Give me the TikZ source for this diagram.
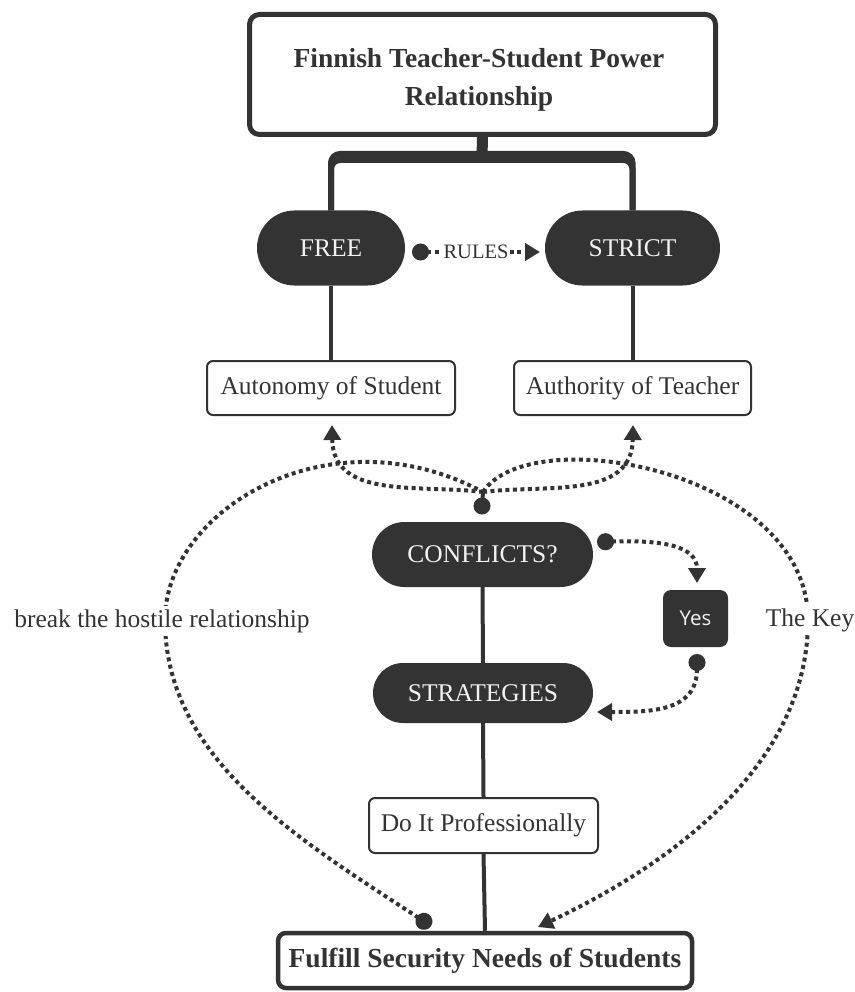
\documentclass[tikz,border=0pt]{standalone}
\usepackage{fontspec}
\setmainfont{Liberation Serif}
\newfontfamily\yesfont{Open Sans}
\usetikzlibrary{arrows.meta,shapes.misc}
\definecolor{ink}{HTML}{333333}
\definecolor{paper}{HTML}{F2F2F2}
\tikzset{
  tri/.tip={Triangle[length=15pt,width=17pt]},
  dotip/.tip={Circle[length=17pt]},
}
\begin{document}
\begin{tikzpicture}[x=1pt,y=-1pt,
  txt/.style={font=\fontsize{25.5}{30}\selectfont, text=ink},
  wbox/.style={txt, draw=ink, line width=2pt, rounded corners=6pt, fill=white, inner sep=0pt},
  pill/.style={rounded rectangle, fill=ink, text=paper, font=\fontsize{25.5}{30}\selectfont, inner sep=0pt},
  solidln/.style={draw=ink, line width=4pt},
  dotln/.style={draw=ink, line width=4pt, line cap=butt, dash pattern=on 4pt off 3.5pt},
  lbl/.style={txt, fill=white, inner sep=3pt}
]
\useasboundingbox (0,0) rectangle (854,992);

% nodes
\node[draw=ink, line width=5pt, rounded corners=10pt, minimum width=466pt, minimum height=120pt,
      fill=white] (title) at (482.5,74.5) {};
\node[align=center, font=\bfseries\fontsize{27.5}{38}\selectfont, text=ink, inner sep=0pt] (titletext) at (479,80)
      {Finnish Teacher-Student Power\\Relationship};
\node[pill, minimum width=148pt, minimum height=75pt] (free) at (331,248) {FREE};
\node[pill, minimum width=175pt, minimum height=75pt] (strict) at (632.5,248) {STRICT};
\node[wbox, minimum width=248pt, minimum height=54pt] (auto) at (331,388) {Autonomy of Student};
\node[wbox, minimum width=237pt, minimum height=54pt] (auth) at (632.5,388) {Authority of Teacher};
\node[pill, minimum width=221pt, minimum height=65pt] (conf) at (482.5,554.5) {CONFLICTS?};
\node[pill, minimum width=220pt, minimum height=60pt] (strat) at (483,693) {STRATEGIES};
\node[fill=ink, rounded corners=8pt, minimum width=65pt, minimum height=57pt, inner sep=0pt,
      text=paper, font=\yesfont\fontsize{20.5}{24}\selectfont] (yes) at (695.5,618.5) {Yes};
\node[wbox, minimum width=229pt, minimum height=55pt] (doit) at (483.5,825.5) {Do It Professionally};
\node[draw=ink, line width=4.5pt, rounded corners=8pt, minimum width=414pt, minimum height=55pt, inner sep=0pt,
      font=\bfseries\fontsize{27.5}{32}\selectfont, text=ink, fill=white] (fulfill) at (485,960.5)
      {Fulfill Security Needs of Students};

% tree connectors from the title
\coordinate (stub) at (482,157);
\coordinate (bl1) at (331,154);
\coordinate (br1) at (632.5,154);
\coordinate (bl2) at (331,160);
\coordinate (br2) at (632.5,160);
\draw[draw=ink, line width=11pt] (title.south) -- (stub);
\draw[draw=ink, line width=6pt, rounded corners=9pt] (free.north) -- (bl1) -- (br1) -- (strict.north);
\draw[draw=ink, line width=6pt, rounded corners=9pt] (free.north) -- (bl2) -- (br2) -- (strict.north);

% solid connectors
\draw[solidln] (free.south) -- (auto.north);
\draw[solidln] (strict.south) -- (auth.north);
\draw[solidln] (conf.south) -- (strat.north);
\draw[solidln] (strat.south) -- (doit.north);
\draw[solidln] (doit.south) -- (fulfill.north);

% RULES
\coordinate (rs) at (412,252);
\coordinate (re) at (540,252);
\draw[dotln, dotip-tri] (rs) -- node[fill=white, inner sep=1.5pt, text=ink, font=\fontsize{20.5}{24}\selectfont] (rules) {RULES} (re);

% hub above CONFLICTS
\coordinate (hub) at (483,492);
\node[circle, fill=ink, minimum size=17pt, inner sep=0pt] (cdot) at (482,506) {};
\draw[draw=ink, line width=4pt] (hub) -- (cdot.center);

% to autonomy / authority
\coordinate (autip) at (332,425);
\coordinate (attip) at (633,425);
\draw[dotln, -tri] (hub) .. controls (420,484) and (333,500) .. (autip);
\draw[dotln, -tri] (hub) .. controls (546,484) and (632,500) .. (attip);

% big left curve
\coordinate (ldot) at (431,926);
\coordinate (lmid) at (165,620);
\draw[dotln, dotip-] (ldot) .. controls (300,840) and (165,760) .. (lmid)
      .. controls (165,510) and (330,410) .. (hub);
\node[lbl] (break) at (162,621) {break the hostile relationship};

% big right curve
\coordinate (rmid) at (808,620);
\coordinate (rtip) at (538,927);
\draw[dotln, -tri] (hub) .. controls (530,420) and (808,470) .. (rmid)
      .. controls (808,760) and (680,860) .. (rtip);
\node[lbl] (key) at (810,620) {The Key};

% CONFLICTS -> Yes
\coordinate (cys) at (597,542);
\coordinate (cye) at (697,583);
\draw[dotln, dotip-tri] (cys) .. controls (660,540) and (697,545) .. (cye);

% Yes -> STRATEGIES
\coordinate (yss) at (697,654);
\coordinate (yse) at (597,712);
\draw[dotln, dotip-tri] (yss) .. controls (697,712) and (650,712) .. (yse);
\end{tikzpicture}
\end{document}
